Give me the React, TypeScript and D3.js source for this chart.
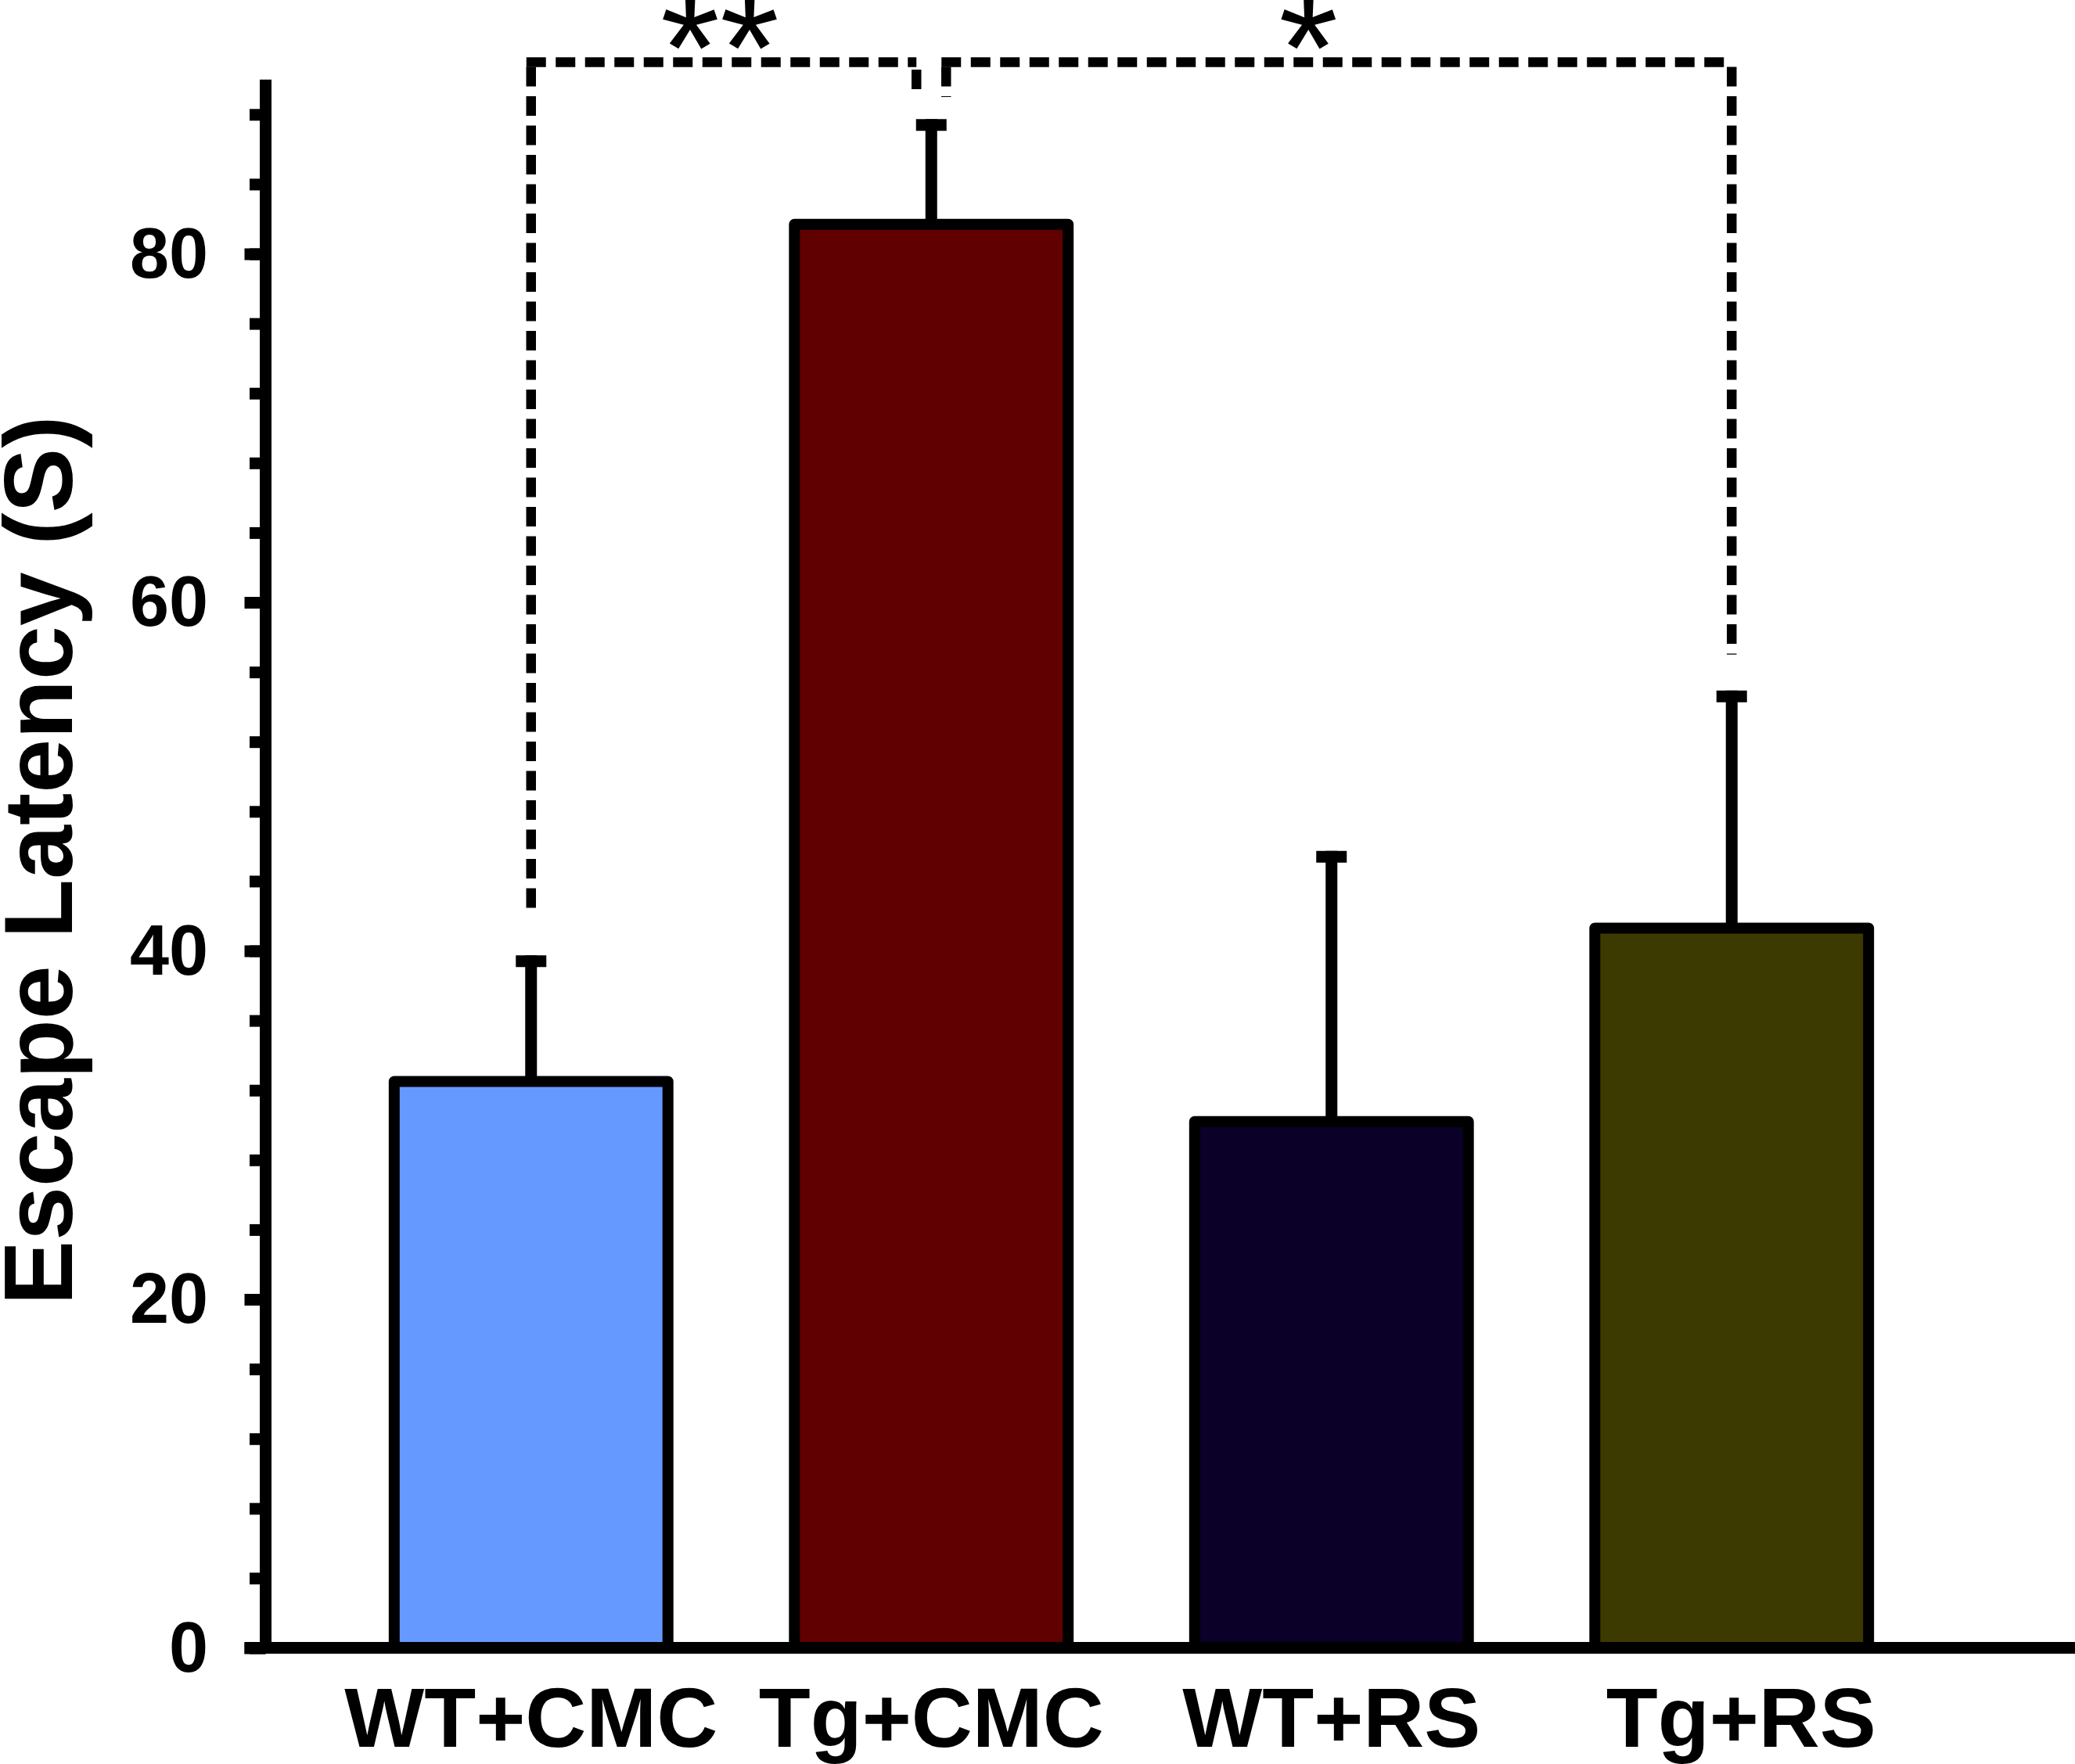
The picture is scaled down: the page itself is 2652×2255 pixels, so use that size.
import { useEffect, useRef } from 'react';
import * as d3 from 'd3';

const groups = ['WT+CMC', 'Tg+CMC', 'WT+RS', 'Tg+RS'];
const means = [32.5, 81.7, 30.2, 41.3];
const errors = [6.9, 5.7, 15.2, 13.3];
const colors = ['#6699ff', '#600000', '#0a0028', '#3c3a00'];

const majorTicks = [0, 20, 40, 60, 80];
const minorTicks = d3.range(0, 89, 4);

// significance brackets: [from, to], lower end values, label
const sigPairs = [[0, 1], [1, 3]];
const sigEnds = [[42.0, 89.3], [89.0, 57.0]];
const sigLabels = ['**', '*'];
const sigTop = 91;

const W = 2652;
const H = 2255;
const FONT = '"Liberation Sans", Arial, sans-serif';

export default function App() {
  const svgRef = useRef<SVGSVGElement>(null);

  useEffect(() => {
    if (!svgRef.current) return;
    const svg = d3.select(svgRef.current);
    svg.selectAll('*').remove();

    const axisX = 339.5;
    const y = d3.scaleLinear().domain([0, 90]).range([2106.5, 101.75]);
    const x = d3.scaleBand()
      .domain(groups)
      .range([423, 2469])
      .paddingInner(0.316)
      .paddingOuter(0.158);
    const bw = x.bandwidth();
    const cx = (i: number) => x(groups[i])! + bw / 2;

    // Bars
    svg.append('g')
      .selectAll('rect')
      .data(groups)
      .enter().append('rect')
      .attr('x', d => x(d)!)
      .attr('y', (d, i) => y(means[i]))
      .attr('width', bw)
      .attr('height', (d, i) => y(0) - y(means[i]))
      .attr('fill', (d, i) => colors[i])
      .attr('stroke', '#000')
      .attr('stroke-width', 14)
      .attr('stroke-linejoin', 'round');

    // Error bars
    const eb = svg.append('g').attr('stroke', '#000').attr('stroke-width', 15);
    groups.forEach((g, i) => {
      const top = y(means[i] + errors[i]);
      eb.append('line')
        .attr('x1', cx(i)).attr('x2', cx(i))
        .attr('y1', y(means[i])).attr('y2', top - 7.5);
      eb.append('line')
        .attr('x1', cx(i) - 19.5).attr('x2', cx(i) + 19.5)
        .attr('y1', top).attr('y2', top);
    });

    // Significance brackets
    const inset = 19;
    const starShift = [-5, -39];
    const sg = svg.append('g')
      .attr('stroke', '#000')
      .attr('stroke-width', 12.5)
      .attr('stroke-dasharray', '25,12.5')
      .attr('fill', 'none');
    sigPairs.forEach(([a, b], k) => {
      const xa = cx(a) + (a === 1 ? inset : 0);
      const xb = cx(b) - (b === 1 ? inset : 0);
      const yt = y(sigTop);
      sg.append('line').attr('x1', xa - 6).attr('x2', xb).attr('y1', yt).attr('y2', yt);
      sg.append('line').attr('x1', xa).attr('x2', xa).attr('y1', yt + 6).attr('y2', y(sigEnds[k][0]));
      sg.append('line').attr('x1', xb).attr('x2', xb).attr('y1', yt + 6 + (k === 0 ? 3.5 : 0)).attr('y2', y(sigEnds[k][1]));
      svg.append('text')
        .attr('x', (xa + xb) / 2 + starShift[k])
        .attr('y', 128)
        .attr('text-anchor', 'middle')
        .attr('font-family', FONT)
        .attr('font-size', 195)
        .text(sigLabels[k]);
    });

    // Y axis: minor ticks
    svg.append('g')
      .attr('transform', `translate(${axisX},0)`)
      .call(d3.axisLeft(y).tickValues(minorTicks).tickSize(20.5).tickFormat(() => ''))
      .call(gg => gg.select('.domain').remove())
      .call(gg => gg.selectAll('line').attr('stroke', '#000').attr('stroke-width', 15));

    // Y axis: major ticks + labels
    svg.append('g')
      .attr('transform', `translate(${axisX},0)`)
      .call(d3.axisLeft(y).tickValues(majorTicks).tickSize(27).tickPadding(46.5).tickFormat(d3.format('d')))
      .call(gg => gg.select('.domain').remove())
      .call(gg => gg.selectAll('line').attr('stroke', '#000').attr('stroke-width', 15))
      .call(gg => gg.selectAll('text')
        .attr('font-family', FONT).attr('font-weight', 'bold')
        .attr('font-size', 90).attr('fill', '#000').attr('dy', '0.33em'));

    // Axis lines
    svg.append('line')
      .attr('x1', axisX).attr('x2', axisX)
      .attr('y1', y(90)).attr('y2', y(0) + 7.5)
      .attr('stroke', '#000').attr('stroke-width', 15);
    svg.append('line')
      .attr('x1', 312.5).attr('x2', W)
      .attr('y1', y(0)).attr('y2', y(0))
      .attr('stroke', '#000').attr('stroke-width', 15);

    // X labels
    svg.append('g')
      .selectAll('text')
      .data(groups)
      .enter().append('text')
      .attr('x', (d, i) => cx(i) + (i === 3 ? 12 : 0))
      .attr('y', 2233)
      .attr('text-anchor', 'middle')
      .attr('font-family', FONT)
      .attr('font-weight', 'bold')
      .attr('font-size', 108)
      .text(d => d);

    // Y label
    svg.append('text')
      .attr('transform', 'translate(92,1100) rotate(-90)')
      .attr('text-anchor', 'middle')
      .attr('font-family', FONT)
      .attr('font-weight', 'bold')
      .attr('font-size', 124)
      .text('Escape Latency (S)');
  }, []);

  return (
    <svg
      ref={svgRef}
      width={W}
      height={H}
      style={{ position: 'absolute', left: 0, top: 0, display: 'block', background: '#fff' }}
    />
  );
}
